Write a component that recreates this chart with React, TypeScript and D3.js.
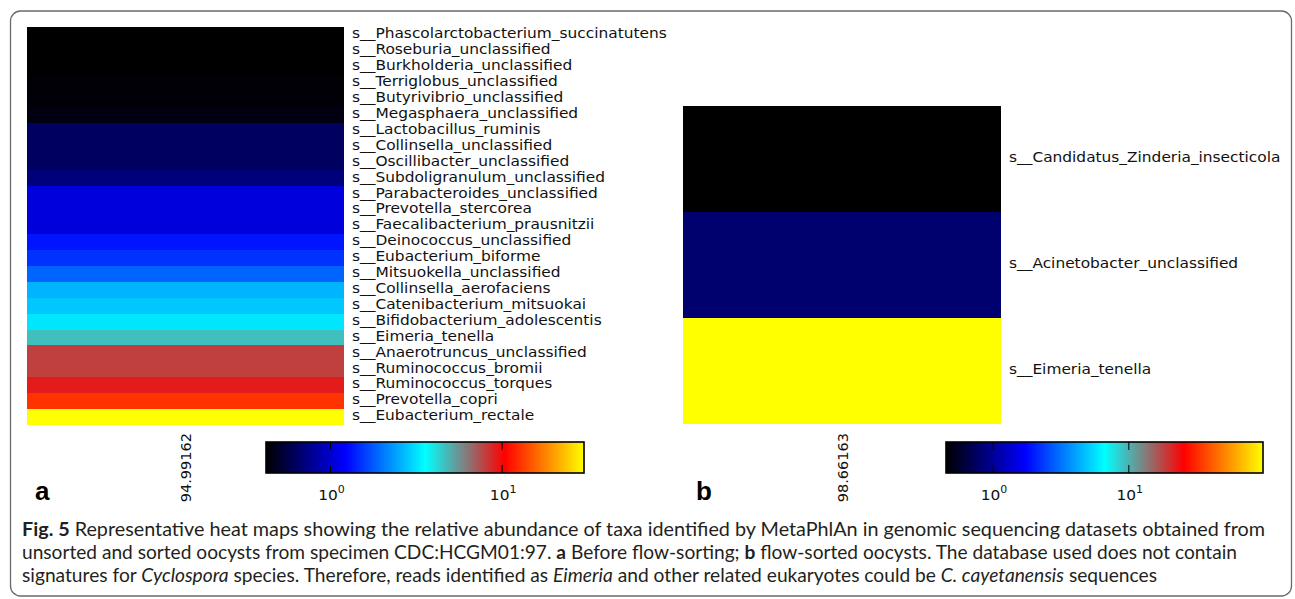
import React from 'react';
import * as d3 from 'd3';

// Panel a: species ordered as in the heat map (top to bottom), relative abundance (%)
const taxaA = [
  's__Phascolarctobacterium_succinatutens',
  's__Roseburia_unclassified',
  's__Burkholderia_unclassified',
  's__Terriglobus_unclassified',
  's__Butyrivibrio_unclassified',
  's__Megasphaera_unclassified',
  's__Lactobacillus_ruminis',
  's__Collinsella_unclassified',
  's__Oscillibacter_unclassified',
  's__Subdoligranulum_unclassified',
  's__Parabacteroides_unclassified',
  's__Prevotella_stercorea',
  's__Faecalibacterium_prausnitzii',
  's__Deinococcus_unclassified',
  's__Eubacterium_biforme',
  's__Mitsuokella_unclassified',
  's__Collinsella_aerofaciens',
  's__Catenibacterium_mitsuokai',
  's__Bifidobacterium_adolescentis',
  's__Eimeria_tenella',
  's__Anaerotruncus_unclassified',
  's__Ruminococcus_bromii',
  's__Ruminococcus_torques',
  's__Prevotella_copri',
  's__Eubacterium_rectale',
];
const abundanceA = [
  0.421, 0.421, 0.421, 0.431, 0.431, 0.45, 0.629, 0.629, 0.629, 0.701,
  1.06, 1.06, 1.06, 1.33, 1.507, 1.86, 2.6, 2.82, 3.2, 4.64,
  7.93, 7.93, 9.22, 12.78, 29.99,
];
const sampleA = '94.99162';

// Panel b: flow-sorted oocysts
const taxaB = [
  's__Candidatus_Zinderia_insecticola',
  's__Acinetobacter_unclassified',
  's__Eimeria_tenella',
];
const abundanceB = [0.45, 0.81, 97.4];
const sampleB = '98.66163';

// Colour bar ticks (log scale)
const cbTicks = [1, 10];

// "bbcry" colour map: black -> blue -> cyan -> red -> yellow
const cmapStops = [0, 0.25, 0.5, 0.75, 1];
const cmapColors = ['#000000', '#0000ff', '#00ffff', '#ff0000', '#ffff00'];

const cmap = d3
  .scaleLinear<string>()
  .domain(cmapStops)
  .range(cmapColors)
  .interpolate(d3.interpolateRgb)
  .clamp(true);

const MPL_FONT = '"DejaVu Sans", sans-serif';
const LABEL_SX = 1.1;

type PanelProps = {
  id: string;
  taxa: string[];
  values: number[];
  sample: string;
  letter: string;
  letterX: number;
  hx0: number;
  hx1: number;
  hy0: number;
  hy1: number;
  cbX0: number;
  cbX1: number;
};

function Panel(p: PanelProps) {
  const ext = d3.extent(p.values) as [number, number];
  const norm = d3.scaleLog().domain(ext).range([0, 1]).clamp(true);
  const color = (v: number) => cmap(norm(v));
  const y = d3
    .scaleBand<string>()
    .domain(p.taxa)
    .range([p.hy0, p.hy1])
    .padding(0);
  const cbY0 = 442;
  const cbY1 = 473;
  const cbX = d3.scaleLog().domain(ext).range([p.cbX0, p.cbX1]);
  const gradStops = d3.range(0, 65).map((i) => i / 64);
  const midX = (p.hx0 + p.hx1) / 2;
  const tickLen = 8;

  return (
    <g>
      <defs>
        <linearGradient id={`grad-${p.id}`} x1="0" x2="1" y1="0" y2="0">
          {gradStops.map((t) => (
            <stop key={t} offset={t} stopColor={cmap(t)} />
          ))}
        </linearGradient>
      </defs>

      {/* heat map cells */}
      {p.taxa.map((name, i) => (
        <rect
          key={name}
          x={p.hx0}
          y={y(name)}
          width={p.hx1 - p.hx0}
          height={y.bandwidth() + 0.4}
          fill={color(p.values[i])}
          shapeRendering="crispEdges"
        />
      ))}

      {/* row labels */}
      {p.taxa.map((name) => (
        <text
          key={`l-${name}`}
          transform={`translate(${p.hx1 + 8},${(y(name) as number) + y.bandwidth() / 2 + 3.2}) scale(${LABEL_SX},1)`}
          fontFamily={MPL_FONT}
          fontSize={14}
          fill="#111"
        >
          {name}
        </text>
      ))}

      {/* column label */}
      <text
        transform={`translate(${midX + 5.5},433) rotate(-90)`}
        textAnchor="end"
        fontFamily={MPL_FONT}
        fontSize={14.5}
        fill="#111"
      >
        {p.sample}
      </text>

      {/* colour bar */}
      <rect
        x={p.cbX0}
        y={cbY0}
        width={p.cbX1 - p.cbX0}
        height={cbY1 - cbY0}
        fill={`url(#grad-${p.id})`}
      />
      {cbTicks.map((t) => (
        <g key={t}>
          <line x1={cbX(t)} x2={cbX(t)} y1={cbY0} y2={cbY0 + tickLen} stroke="#000" strokeWidth={1} />
          <line x1={cbX(t)} x2={cbX(t)} y1={cbY1} y2={cbY1 - tickLen} stroke="#000" strokeWidth={1} />
          <text
            transform={`translate(${cbX(t) + 1},500) scale(${LABEL_SX},1)`}
            textAnchor="middle"
            fontFamily={MPL_FONT}
            fontSize={14}
            fill="#111"
          >
            10
            <tspan fontSize={10} dy={-7}>
              {Math.round(Math.log10(t))}
            </tspan>
          </text>
        </g>
      ))}
      <rect
        x={p.cbX0}
        y={cbY0}
        width={p.cbX1 - p.cbX0}
        height={cbY1 - cbY0}
        fill="none"
        stroke="#000"
        strokeWidth={1.6}
      />

      {/* panel letter */}
      <text
        x={p.letterX}
        y={500}
        fontFamily='"Liberation Sans", Arial, sans-serif'
        fontWeight="bold"
        fontSize={26}
        fill="#000"
      >
        {p.letter}
      </text>
    </g>
  );
}

const CAPTION_FONT = 'Lato, "Open Sans", sans-serif';

export default function App() {
  return (
    <svg
      width={1295}
      height={599}
      style={{ position: 'absolute', left: 0, top: 0, background: '#fff' }}
    >
      <rect x={0} y={0} width={1295} height={599} fill="#fff" />
      <rect
        x={10.5}
        y={11}
        width={1281}
        height={585}
        rx={10}
        fill="none"
        stroke="#6a6a6a"
        strokeWidth={1.3}
      />

      <Panel
        id="a"
        taxa={taxaA}
        values={abundanceA}
        sample={sampleA}
        letter="a"
        letterX={35}
        hx0={26.5}
        hx1={344}
        hy0={27.3}
        hy1={425}
        cbX0={266}
        cbX1={584}
      />
      <Panel
        id="b"
        taxa={taxaB}
        values={abundanceB}
        sample={sampleB}
        letter="b"
        letterX={696}
        hx0={683}
        hx1={1001}
        hy0={106}
        hy1={424}
        cbX0={946}
        cbX1={1263}
      />

      {/* caption */}
      <g fontFamily={CAPTION_FONT} fontSize={19} fill="#231f20">
        <text x={22} y={536} textLength={1243} lengthAdjust="spacingAndGlyphs">
          <tspan fontWeight="bold">Fig. 5</tspan>
          {'  Representative heat maps showing the relative abundance of taxa identified by MetaPhlAn in genomic sequencing datasets obtained from'}
        </text>
        <text x={22} y={559} textLength={1215} lengthAdjust="spacingAndGlyphs">
          {'unsorted and sorted oocysts from specimen CDC:HCGM01:97. '}
          <tspan fontWeight="bold">a</tspan>
          {' Before flow-sorting; '}
          <tspan fontWeight="bold">b</tspan>
          {' flow-sorted oocysts. The database used does not contain'}
        </text>
        <text x={22} y={582} textLength={1135} lengthAdjust="spacingAndGlyphs">
          {'signatures for '}
          <tspan fontStyle="italic">Cyclospora</tspan>
          {' species. Therefore, reads identified as '}
          <tspan fontStyle="italic">Eimeria</tspan>
          {' and other related eukaryotes could be '}
          <tspan fontStyle="italic">C. cayetanensis</tspan>
          {' sequences'}
        </text>
      </g>
    </svg>
  );
}
